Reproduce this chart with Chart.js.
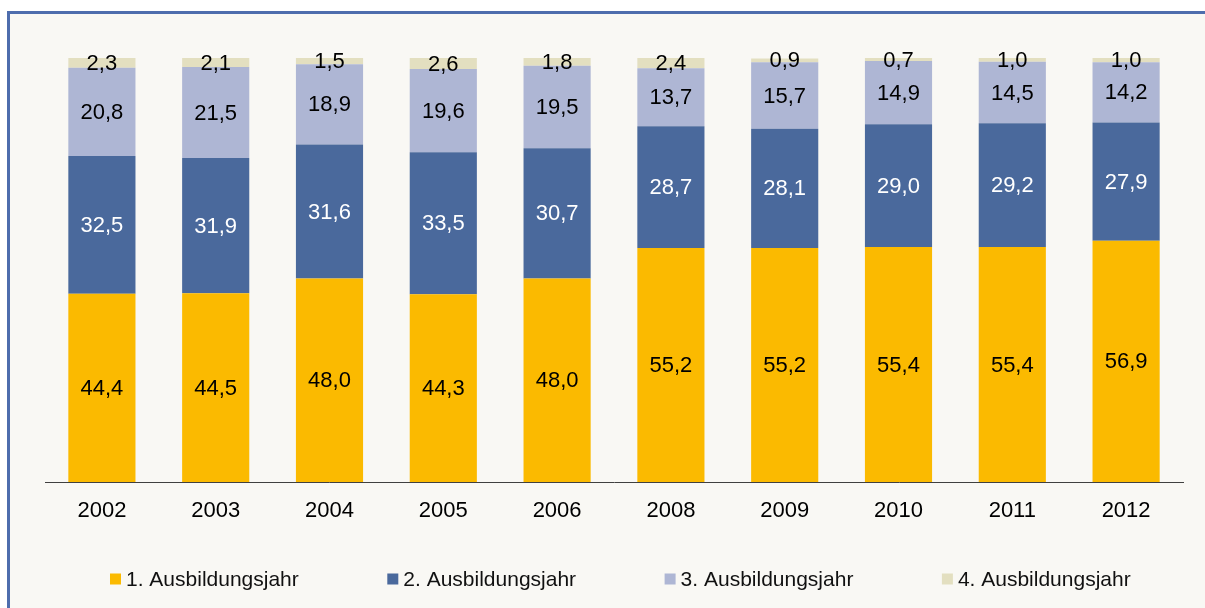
<!DOCTYPE html>
<html>
<head>
<meta charset="utf-8">
<script src="https://cdn.jsdelivr.net/npm/chart.js@4/dist/chart.umd.min.js"></script>
<style>
  html, body { margin: 0; padding: 0; background: #ffffff; }
  #wrap { width: 1205px; height: 608px; position: relative; }
</style>
</head>
<body>
<div id="wrap"><canvas id="c" width="1205" height="608"></canvas></div>
<script>
const categories = ['2002','2003','2004','2005','2006','2008','2009','2010','2011','2012'];
const seriesNames = ['1. Ausbildungsjahr','2. Ausbildungsjahr','3. Ausbildungsjahr','4. Ausbildungsjahr'];
const year1 = [44.4, 44.5, 48.0, 44.3, 48.0, 55.2, 55.2, 55.4, 55.4, 56.9];
const year2 = [32.5, 31.9, 31.6, 33.5, 30.7, 28.7, 28.1, 29.0, 29.2, 27.9];
const year3 = [20.8, 21.5, 18.9, 19.6, 19.5, 13.7, 15.7, 14.9, 14.5, 14.2];
const year4 = [2.3, 2.1, 1.5, 2.6, 1.8, 2.4, 0.9, 0.7, 1.0, 1.0];

const colors = ['#FBBA00', '#4A699C', '#AEB6D4', '#E3DFC0'];
const labelColors = ['#000000', '#ffffff', '#000000', '#000000'];
const FONT = '"Liberation Sans", Arial, sans-serif';

const framePlugin = {
  id: 'frame',
  beforeDraw(chart) {
    const ctx = chart.ctx;
    ctx.save();
    ctx.fillStyle = '#ffffff';
    ctx.fillRect(0, 0, chart.width, chart.height);
    ctx.fillStyle = '#F9F8F4';
    ctx.fillRect(8, 12, chart.width - 8, chart.height - 12);
    ctx.strokeStyle = '#4E6DAD';
    ctx.lineWidth = 3;
    ctx.beginPath();
    ctx.moveTo(8.5, chart.height);
    ctx.lineTo(8.5, 12.5);
    ctx.lineTo(chart.width, 12.5);
    ctx.stroke();
    ctx.restore();
  }
};

const valueLabelPlugin = {
  id: 'valueLabels',
  afterDatasetsDraw(chart) {
    const ctx = chart.ctx;
    ctx.save();
    ctx.font = '22px ' + FONT;
    ctx.textAlign = 'center';
    ctx.textBaseline = 'middle';
    chart.data.datasets.forEach((ds, i) => {
      const meta = chart.getDatasetMeta(i);
      meta.data.forEach((el, j) => {
        const v = ds.data[j];
        const cy = (el.y + el.base) / 2 + 1;
        ctx.fillStyle = labelColors[i];
        ctx.fillText(v.toFixed(1).replace('.', ','), el.x, cy);
      });
    });
    ctx.restore();
  }
};

const legendPlugin = {
  id: 'customLegend',
  afterDraw(chart) {
    const ctx = chart.ctx;
    ctx.save();
    ctx.font = '21px ' + FONT;
    ctx.textBaseline = 'middle';
    ctx.textAlign = 'left';
    const y = 579;
    const startX = 110;
    const step = 277.3;
    chart.data.datasets.forEach((ds, i) => {
      const x = startX + i * step;
      ctx.fillStyle = ds.backgroundColor;
      ctx.fillRect(x, y - 5.5, 11, 11);
      ctx.fillStyle = '#111111';
      ctx.fillText(ds.label, x + 16, y + 1);
    });
    ctx.restore();
  }
};

const seriesData = [year1, year2, year3, year4];

new Chart(document.getElementById('c'), {
  type: 'bar',
  data: {
    labels: categories,
    datasets: seriesNames.map((name, i) => ({
      label: name,
      data: seriesData[i],
      backgroundColor: colors[i],
      borderWidth: 0,
      barPercentage: 0.59,
      categoryPercentage: 1.0
    }))
  },
  options: {
    responsive: false,
    animation: false,
    devicePixelRatio: 1,
    layout: { padding: { left: 45, right: 22, top: 58, bottom: 0 } },
    plugins: {
      legend: { display: false },
      tooltip: { enabled: false }
    },
    scales: {
      x: {
        stacked: true,
        grid: { display: false, drawTicks: false },
        border: { display: true, color: '#404040', width: 1 },
        ticks: { color: '#000000', font: { family: FONT, size: 22 }, padding: 16 },
        afterFit(scale) { scale.height = 126; }
      },
      y: {
        stacked: true,
        display: false,
        min: 0,
        max: 100
      }
    }
  },
  plugins: [framePlugin, valueLabelPlugin, legendPlugin]
});
</script>
</body>
</html>
